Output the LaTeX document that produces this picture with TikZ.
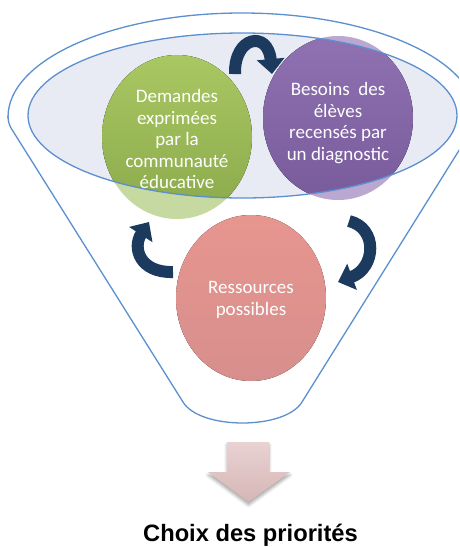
\documentclass[tikz,border=0pt]{standalone}
\usepackage{fontspec}
\setmainfont{Carlito}
\newfontfamily\titlefont{Liberation Sans}
\usetikzlibrary{shapes.geometric,arrows.meta,shadows.blur}
\definecolor{funnelblue}{HTML}{5B8FCF}
\definecolor{rimfill}{HTML}{E8EBF4}
\definecolor{gtop}{HTML}{A9C762}
\definecolor{gbot}{HTML}{8AA94B}
\definecolor{gpale}{HTML}{C6D9A0}
\definecolor{ptop}{HTML}{9072B2}
\definecolor{pbot}{HTML}{785B9B}
\definecolor{ppale}{HTML}{BBA8D0}
\definecolor{rtop}{HTML}{E7958F}
\definecolor{rbot}{HTML}{D78F8D}
\definecolor{navy}{HTML}{1C3A5E}
\definecolor{atop}{HTML}{E9D2D2}
\definecolor{abot}{HTML}{D6B6B6}
\begin{document}
\begin{tikzpicture}[x=1pt,y=-1pt,
  rimline/.style={draw=funnelblue, line width=1.3pt},
  bubble/.style={ellipse, minimum width=150pt, minimum height=164pt, inner sep=0pt,
    text=white, font=\fontsize{19}{21.5}\selectfont, align=center},
  cyc/.style={draw=navy, line width=12pt, -{Triangle[width=27pt,length=15pt]}}]
\useasboundingbox (0,0) rectangle (459,547);
\clip (0,0) rectangle (459,547);
% funnel outline
\begin{scope}
  \clip (0,0) rectangle (480,117);
  \draw[rimline] (242,117) ellipse [x radius=234, y radius=104];
\end{scope}
\draw[rimline] (8,116) .. controls (8,121) and (9,124) .. (11,128) -- (183,402) .. controls (200,430) and (285,430) .. (302,402) -- (473,128) .. controls (475,124) and (476,121) .. (476,116);
% inner rim fill
\fill[rimfill] (242.5,115.5) ellipse [x radius=214.5, y radius=82.5];
% circle centres
\coordinate (gc) at (177,137);
\coordinate (pc) at (338,118);
\coordinate (rc) at (251,298);
% pale circle bodies
\fill[gpale] (gc) ellipse [x radius=75, y radius=82];
\fill[ppale] (pc) ellipse [x radius=75, y radius=82];
% saturated parts inside rim
\begin{scope}
  \clip (242.5,115.5) ellipse [x radius=214.5, y radius=82.5];
  \fill[top color=gtop, bottom color=gbot] (gc) ellipse [x radius=75, y radius=82];
  \fill[top color=ptop, bottom color=pbot] (pc) ellipse [x radius=75, y radius=82];
\end{scope}
\fill[top color=rtop, bottom color=rbot] (rc) ellipse [x radius=75, y radius=83];
% rim outline on top
\draw[rimline] (242.5,115.5) ellipse [x radius=214.5, y radius=82.5];
% text nodes
\node[bubble] (green) at (177,139) {Demandes\\exprimées\\par la\\communauté\\éducative};
\node[bubble] (purple) at (338,123) {Besoins~ des\\élèves\\recensés par\\un diagnostic};
\node[bubble] (pink) at (251,300) {Ressources\\possibles};
% cycle arrows
\coordinate (t1) at (235,74);
\coordinate (t2) at (272,74);
\coordinate (r1) at (349,221);
\coordinate (r2) at (338,282);
\coordinate (l1) at (173,272);
\coordinate (l2) at (149,222);
\draw[cyc] (t1) .. controls (234,36) and (268,30) .. (t2);
\draw[cyc] (r1) .. controls (378,228) and (376,268) .. (r2);
\draw[cyc] (l1) .. controls (140,273) and (132,248) .. (l2);
% down arrow
\path[top color=atop, bottom color=abot,
  blur shadow={shadow xshift=0pt, shadow yshift=-3pt, shadow opacity=35, shadow blur radius=3pt}]
  (227,442) -- (269,442) -- (269,472) -- (290,472) -- (248.5,502) -- (208,472) -- (227,472) -- cycle;
\node[anchor=base, font=\titlefont\bfseries\fontsize{23.7}{26}\selectfont, inner sep=0pt] (title) at (250.5,541) {Choix des priorités};
\end{tikzpicture}
\end{document}
